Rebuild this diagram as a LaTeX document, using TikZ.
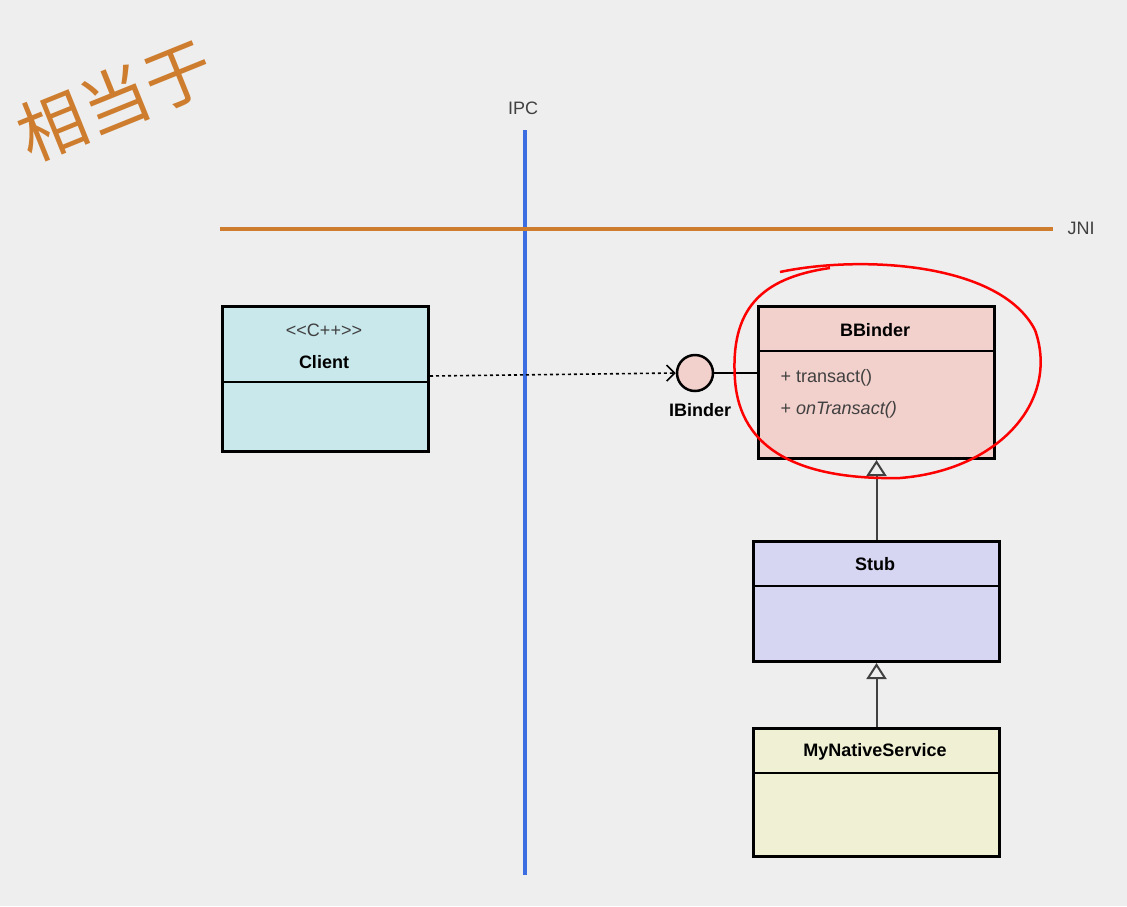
\documentclass[tikz,border=0pt]{standalone}
\usepackage{fontspec}
\setmainfont{Liberation Sans}
\newfontfamily\cjk{Noto Sans CJK SC}
\usetikzlibrary{arrows.meta,positioning}
\definecolor{bg}{RGB}{238,238,238}
\definecolor{orng}{RGB}{205,125,45}
\definecolor{ipcblue}{RGB}{60,110,225}
\definecolor{cfill}{RGB}{200,232,236}
\definecolor{bfill}{RGB}{242,208,204}
\definecolor{sfill}{RGB}{214,214,242}
\definecolor{mfill}{RGB}{240,240,212}
\begin{document}
\begin{tikzpicture}[x=1pt,y=-1pt,
  cls/.style={draw=black,line width=3pt,anchor=north west,inner sep=0pt},
  ttl/.style={font=\bfseries\fontsize{18}{20}\selectfont},
  txt/.style={font=\fontsize{18}{20}\selectfont,text=black!75},
  inh/.style={-{Triangle[open,length=16pt,width=20pt]},line width=2pt,draw=black!75}]
\fill[bg] (0,0) rectangle (1127,906);
\useasboundingbox (0,0) rectangle (1127,906);
\node[rotate=22,text=orng,font=\cjk\fontsize{68}{72}\selectfont] (title) at (115,100) {相当于};
\node[txt] (ipcl) at (523,108) {IPC};
\coordinate (ipct) at (525,130);
\coordinate (ipcb) at (525,875);
\draw[ipcblue,line width=3.5pt] (ipct) -- (ipcb);
\coordinate (jnil) at (220,229);
\coordinate (jnir) at (1053,229);
\draw[orng,line width=3.5pt] (jnil) -- (jnir);
\node[txt] (jni) at (1081,228) {JNI};
% Client
\node[cls,fill=cfill,minimum width=206pt,minimum height=145pt] (client) at (221,305) {};
\draw[line width=1.5pt] (221,382) -- (427,382);
\node[txt] at (324,330) {{<}{<}C++{>}{>}};
\node[ttl] at (324,362) {Client};
% BBinder
\node[cls,fill=bfill,minimum width=236pt,minimum height=152pt] (bb) at (757,305) {};
\draw[line width=1.5pt] (757,351) -- (993,351);
\node[ttl] at (875,330) {BBinder};
\node[txt,anchor=west] at (777,378) {+ transact()};
\node[txt,anchor=west] at (777,410) {+ \textit{onTransact()}};
% IBinder
\node[circle,draw=black,line width=2.5pt,fill=bfill,minimum size=36pt,inner sep=0pt] (ib) at (695,373) {};
\node[ttl] (ibl) at (700,410) {IBinder};
\draw[line width=2pt] (ib.east) -- (bb.west |- ib.east);
\draw[dashed,line width=1.6pt,-{Straight Barb[length=8pt,width=16pt]}] (client.east |- 0,376) -- (ib.west);
% Stub
\node[cls,fill=sfill,minimum width=246pt,minimum height=120pt] (stub) at (752,540) {};
\draw[line width=1.5pt] (752,586) -- (998,586);
\node[ttl] at (875,564) {Stub};
% MyNativeService
\node[cls,fill=mfill,minimum width=246pt,minimum height=128pt] (mns) at (752,727) {};
\draw[line width=1.5pt] (752,773) -- (998,773);
\node[ttl] at (875,752) {MyNativeService};
\draw[inh] (stub.north) -- (stub.north |- bb.south);
\draw[inh] (mns.north) -- (stub.south);
% red ellipse
\draw[red,line width=2.5pt] (780,272) .. controls (860,255) and (1000,262) .. (1035,330)
  .. controls (1060,400) and (1000,470) .. (900,478)
  .. controls (800,480) and (740,450) .. (735,380)
  .. controls (730,310) and (760,278) .. (830,268);
\end{tikzpicture}
\end{document}
